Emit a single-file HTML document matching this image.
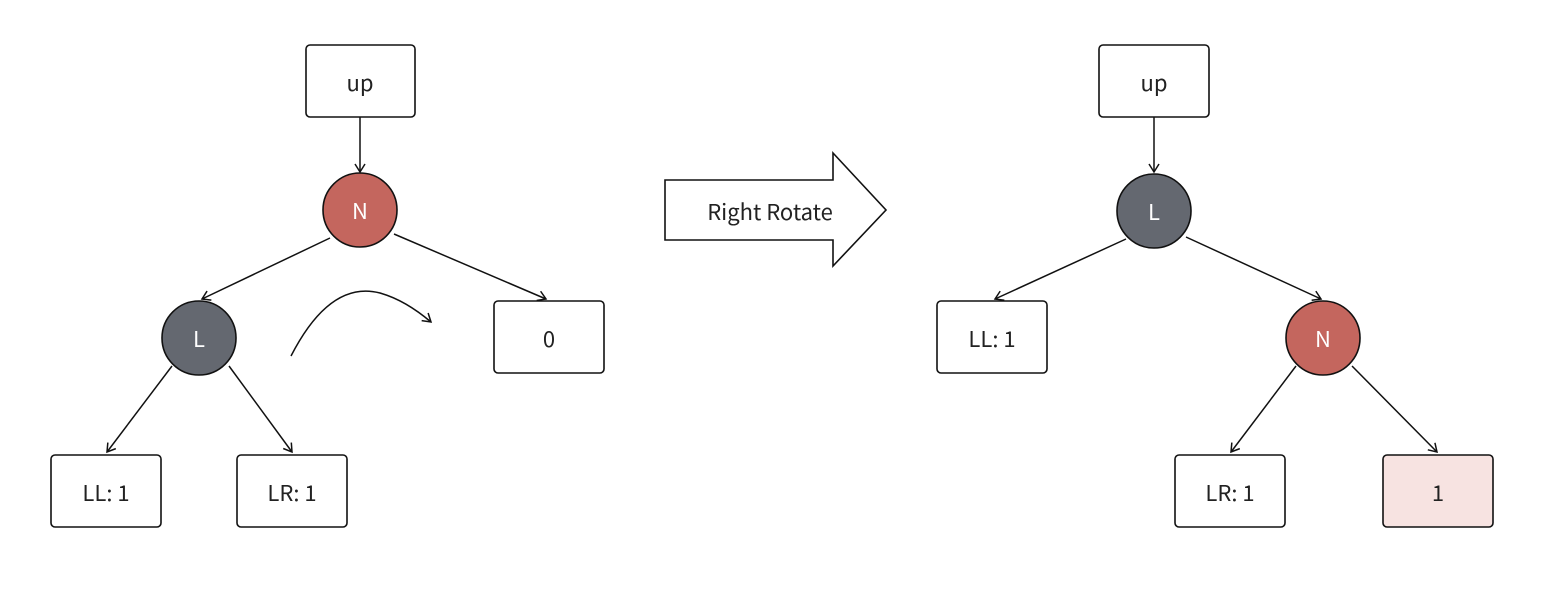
<!DOCTYPE html>
<html><head><style>html,body{margin:0;padding:0;background:#fff}</style></head><body>
<svg width="1558" height="584" xmlns="http://www.w3.org/2000/svg" font-family="Noto Sans CJK SC, Liberation Sans, sans-serif" font-size="22">
<defs><marker id="a" markerWidth="12" markerHeight="12" refX="10" refY="6" orient="auto" markerUnits="userSpaceOnUse"><path d="M2,1 L10,6 L2,11" fill="none" stroke="#111" stroke-width="1.5"/></marker></defs>
<g fill="#fff" stroke="#111" stroke-width="1.6">
<rect x="306" y="45" width="109" height="72" rx="4"/>
<rect x="494" y="301" width="110" height="72" rx="4"/>
<rect x="51" y="455" width="110" height="72" rx="4"/>
<rect x="237" y="455" width="110" height="72" rx="4"/>
<rect x="1099" y="45" width="110" height="72" rx="4"/>
<rect x="937" y="301" width="110" height="72" rx="4"/>
<rect x="1175" y="455" width="110" height="72" rx="4"/>
<rect x="1383" y="455" width="110" height="72" rx="4" fill="#f7e3e1"/>
<circle cx="360" cy="210" r="37" fill="#c4665e"/>
<circle cx="199" cy="338" r="37" fill="#646870"/>
<circle cx="1154" cy="211" r="37" fill="#646870"/>
<circle cx="1323" cy="338" r="37" fill="#c4665e"/>
<polygon points="665,180 833,180 833,153 886,210 833,266 833,240 665,240"/>
</g>
<g stroke="#111" stroke-width="1.5" fill="none" marker-end="url(#a)">
<line x1="360" y1="117" x2="360" y2="172"/>
<line x1="330" y1="238" x2="202" y2="299"/>
<line x1="394" y1="234" x2="546" y2="299"/>
<line x1="172" y1="366" x2="107" y2="452"/>
<line x1="229" y1="366" x2="292" y2="452"/>
<path d="M291,356 Q330,280 380,293 Q405,300 431,322"/>
<line x1="1154" y1="117" x2="1154" y2="172"/>
<line x1="1126" y1="239" x2="995" y2="299"/>
<line x1="1186" y1="237" x2="1321" y2="299"/>
<line x1="1296" y1="366" x2="1231" y2="452"/>
<line x1="1352" y1="366" x2="1437" y2="452"/>
</g>
<g text-anchor="middle" fill="#222" dominant-baseline="central">
<text x="360" y="82">up</text>
<text x="549" y="338">0</text>
<text x="106" y="492">LL: 1</text>
<text x="292" y="492">LR: 1</text>
<text x="1154" y="82">up</text>
<text x="992" y="338">LL: 1</text>
<text x="1230" y="492">LR: 1</text>
<text x="1438" y="492">1</text>
<text x="770" y="211">Right Rotate</text>
<text x="360" y="210" fill="#fff">N</text>
<text x="199" y="338" fill="#fff">L</text>
<text x="1154" y="211" fill="#fff">L</text>
<text x="1323" y="338" fill="#fff">N</text>
</g>
</svg>
</body></html>
